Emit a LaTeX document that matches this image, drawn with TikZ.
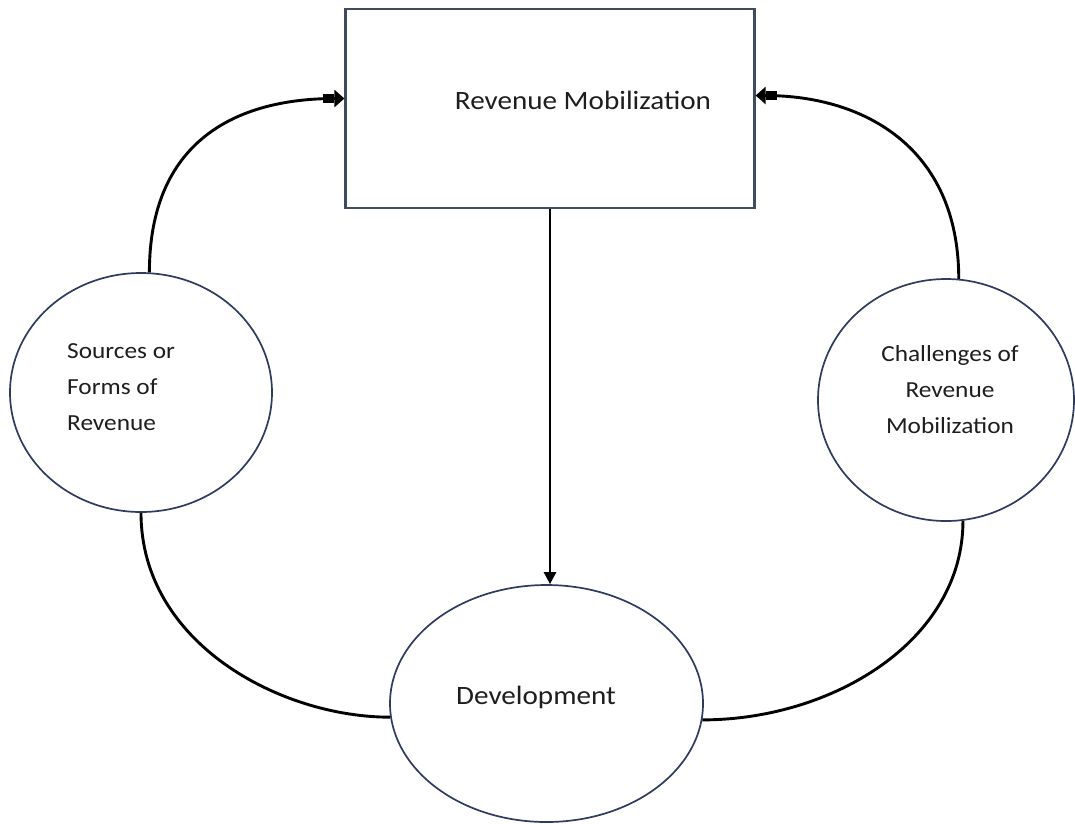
\documentclass[tikz,border=0pt]{standalone}
\usepackage{fontspec}
\setmainfont{Carlito}[FakeStretch=1.1]
\usetikzlibrary{shapes.geometric,arrows.meta}
\definecolor{navy}{HTML}{2F3B5F}
\definecolor{boxline}{HTML}{414B5E}
\definecolor{txt}{HTML}{1E1E1E}
\begin{document}
\begin{tikzpicture}[x=1pt,y=-1pt,
  circ/.style={ellipse, draw=navy, line width=1.7pt, inner sep=0pt},
  boxnode/.style={draw=boxline, line width=2.2pt, inner sep=0pt},
  conn/.style={draw=black, line width=2.9pt},
  bigtip/.style={-{Rectangle[length=11pt,width=9pt]Triangle[length=10pt,width=17pt]}},
  smalltip/.style={-{Triangle[length=12pt,width=12pt]}},
  lbl/.style={text=txt, inner sep=0pt},
  small/.style={font=\fontsize{23}{36}\selectfont},
  large/.style={font=\fontsize{26.5}{32}\selectfont}]
\useasboundingbox (0,0) rectangle (1075,823);
\fill[white] (0,0) rectangle (1075,823);
% shapes
\node[boxnode, minimum width=409pt, minimum height=199pt] (box) at (550,108.5) {};
\node[circ, minimum width=262pt, minimum height=239pt] (L) at (141,392.5) {};
\node[circ, minimum width=256pt, minimum height=242pt] (R) at (946,400) {};
\node[circ, minimum width=313pt, minimum height=237pt] (D) at (546.5,703.5) {};
% labels
\node[lbl, large] (tbox) at (583,100) {Revenue Mobilization};
\node[lbl, small, align=left, anchor=west] (tL) at (67,387) {Sources or\\Forms of\\Revenue};
\node[lbl, small, align=center] (tR) at (950,390) {Challenges of\\Revenue\\Mobilization};
\node[lbl, large] (tD) at (536,697) {Development};
% connector end points on the box
\coordinate (inL) at ([yshift=10pt]box.west);
\coordinate (inR) at ([yshift=13pt]box.east);
% connectors
\draw[conn, bigtip] (L.86) .. controls +(0,-130) and +(-110,0) .. (inL);
\draw[conn, bigtip] (R.84) .. controls +(0,-130) and +(110,0) .. (inR);
\draw[conn, line width=2.5pt, smalltip] (box.south) -- (box.south |- D.north);
\draw[conn] (L.south) .. controls +(0,130) and +(-110,0) .. (D.185);
\draw[conn] (R.278) .. controls +(0,120) and +(130,0) .. (D.-6);
\end{tikzpicture}
\end{document}
